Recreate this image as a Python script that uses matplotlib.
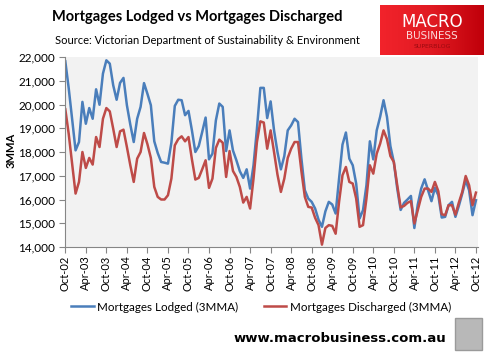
import numpy as np
import matplotlib
matplotlib.use("Agg")
import matplotlib.pyplot as plt
from matplotlib.colors import LinearSegmentedColormap
from matplotlib.patches import Rectangle
from matplotlib.ticker import StrMethodFormatter

# monthly 3MMA, Oct-02 .. Oct-12
lodged = [21820, 20680, 19380, 18070, 18420, 20110, 19190, 19850, 19400, 20640,
          19990, 21300, 21860, 21720, 20810, 20200, 20910, 21120, 19970, 19150,
          18420, 19400, 19900, 20900, 20450, 19970, 18450, 17960, 17580, 17550,
          17510, 18390, 19940, 20200, 20180, 19550, 19730, 18910, 18000, 18250,
          18840, 19450, 17690, 17930, 19330, 20040, 19900, 18040, 18910, 18060,
          17650, 17190, 16910, 17270, 16460, 17440, 18980, 20700, 20700, 19430,
          20130, 18910, 18000, 17270, 17830, 18910, 19120, 19400, 19260, 17720,
          16390, 16040, 15900, 15620, 15150, 14850, 15500, 15900, 15790, 15410,
          16880, 18310, 18820, 17720, 17440, 16670, 15200, 15550, 16600, 18450,
          17690, 18910, 19480, 20180, 19480, 18250, 17580, 16460, 15560, 15860,
          16000, 16150, 14800, 15790, 16460, 16850, 16390, 15930, 16490, 16180,
          15240, 15270, 15760, 15900, 15270, 15730, 16250, 16810, 16390, 15340,
          15970]
discharged = [19800, 18760, 17500, 16250, 16740, 18000, 17330, 17750, 17470, 18630,
              18210, 19400, 19850, 19710, 18980, 18210, 18870, 18940, 18210, 17440,
              16740, 17720, 18000, 18800, 18330, 17750, 16530, 16110, 16000, 16000,
              16180, 16880, 18280, 18540, 18660, 18450, 18630, 17690, 16840, 16910,
              17270, 17650, 16490, 16880, 18170, 18520, 18390, 16950, 18040, 17200,
              16950, 16530, 15870, 16110, 15620, 16880, 18420, 19290, 19240, 18140,
              18910, 18000, 17050, 16320, 16880, 17750, 18140, 18420, 18420, 17190,
              16110, 15690, 15660, 15230, 14920, 14100, 14800, 14920, 14890, 14560,
              15900, 17020, 17370, 16740, 16670, 16040, 14850, 14920, 16040, 17440,
              17090, 17930, 18350, 18910, 18540, 17830, 17580, 16600, 15670, 15730,
              15860, 15930, 14990, 15550, 16110, 16460, 16460, 16320, 16740, 16350,
              15380, 15340, 15760, 15760, 15360, 15870, 16320, 16990, 16600, 15760,
              16290]
tick_labels = ["Oct-02", "Apr-03", "Oct-03", "Apr-04", "Oct-04", "Apr-05", "Oct-05",
               "Apr-06", "Oct-06", "Apr-07", "Oct-07", "Apr-08", "Oct-08", "Apr-09",
               "Oct-09", "Apr-10", "Oct-10", "Apr-11", "Oct-11", "Apr-12", "Oct-12"]

blue = "#4a7ebb"
red = "#be4b48"
font = "Lato"

fig = plt.figure(figsize=(4.88, 3.57), dpi=100)
ax = fig.add_axes([65.3 / 488, 1 - 247 / 357, (478 - 65.3) / 488, 190 / 357])
ax.set_facecolor("#f2f2f2")

months = np.arange(len(lodged))
ax.plot(months, lodged, color=blue, lw=1.8, label="Mortgages Lodged (3MMA)")
ax.plot(months, discharged, color=red, lw=1.8, label="Mortgages Discharged (3MMA)")

ax.set_xlim(0, 120.6)
ax.set_ylim(14000, 22000)
ax.set_yticks(np.arange(14000, 22001, 1000))
ax.yaxis.set_major_formatter(StrMethodFormatter("{x:,.0f}"))
ax.set_xticks(months[::6])
ax.set_xticklabels(tick_labels, rotation=90)
for s in ["top", "right"]:
    ax.spines[s].set_visible(False)
for s in ["left", "bottom"]:
    ax.spines[s].set_color("#868686")
ax.tick_params(axis="both", colors="#868686", length=4, width=0.8, labelcolor="black")
ax.tick_params(axis="x", pad=2)
for lab in ax.get_yticklabels():
    lab.set_fontfamily(font)
    lab.set_fontsize(8.5)
for lab in ax.get_xticklabels():
    lab.set_fontfamily(font)
    lab.set_fontsize(8)

fig.text(11 / 488, 1 - 150 / 357, "3MMA", rotation=90, ha="center", va="center",
         fontsize=8, fontweight="bold", family=font)

fig.text(197 / 488, 1 - 17 / 357, "Mortgages Lodged vs Mortgages Discharged",
         ha="center", va="center", fontsize=10.5, fontweight="bold", family=font)
fig.text(207 / 488, 1 - 41 / 357,
         "Source: Victorian Department of Sustainability & Environment",
         ha="center", va="center", fontsize=8, family=font)

leg = fig.legend(loc="center", bbox_to_anchor=(0.535, 1 - 307 / 357), ncol=2,
                 frameon=False, handlelength=1.9, handletextpad=0.3,
                 columnspacing=2.2, prop={"family": font, "size": 8.4})

# logo block
lax = fig.add_axes([380 / 488, 1 - 55 / 357, 104 / 488, 50 / 357])
grad = LinearSegmentedColormap.from_list("g", ["#f2232b", "#e01a22", "#c0000a"])
lax.imshow(np.linspace(0, 1, 100).reshape(1, -1), aspect="auto", cmap=grad,
           extent=[0, 1, 0, 1])
lax.set_axis_off()
lax.text(0.5, 0.66, "MACRO", color="white", ha="center", va="center",
         fontsize=12, family="DejaVu Sans", transform=lax.transAxes)
lax.text(0.5, 0.38, "BUSINESS", color="#fbd9da", ha="center", va="center",
         fontsize=7.5, family="DejaVu Sans", transform=lax.transAxes)
lax.text(0.5, 0.17, "SUPERBLOG", color="#9c0a10", ha="center", va="center",
         fontsize=4.5, family="DejaVu Sans", transform=lax.transAxes)

fig.text(340 / 488, 1 - 338 / 357, "www.macrobusiness.com.au", ha="center",
         va="center", fontsize=9.5, fontweight="bold", family="DejaVu Sans")
fig.patches.append(Rectangle((455 / 488, 1 - 350 / 357), 27 / 488, 32 / 357,
                             transform=fig.transFigure, facecolor="#b8b8b8",
                             edgecolor="#9a9a9a", lw=1))

fig.savefig("out.png", dpi=100)
